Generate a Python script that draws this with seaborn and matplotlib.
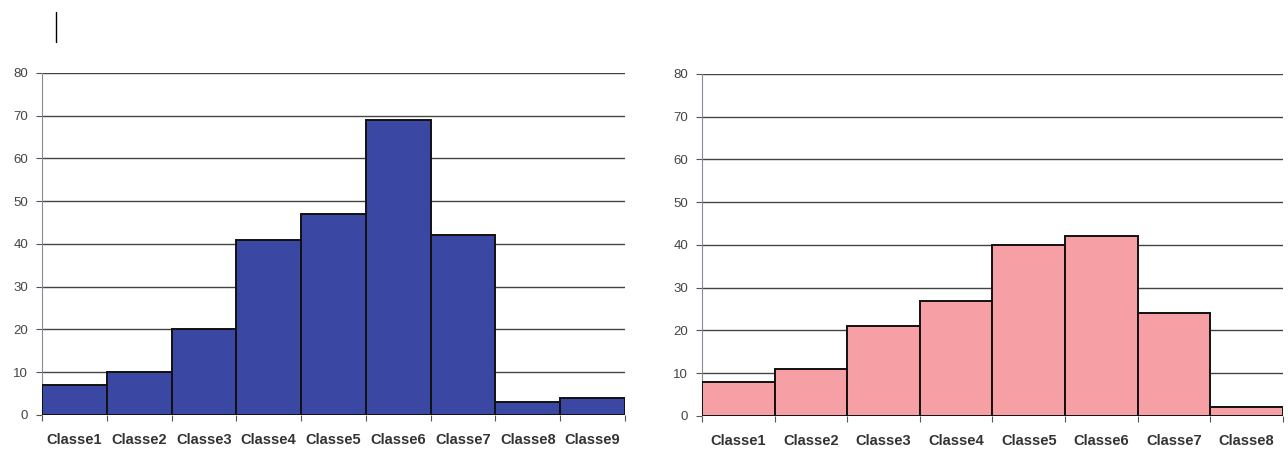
import numpy as np
import pandas as pd
import matplotlib.pyplot as plt
import matplotlib.lines as mlines
import seaborn as sns

# données des deux histogrammes
classes_left = ["Classe1", "Classe2", "Classe3", "Classe4", "Classe5",
                "Classe6", "Classe7", "Classe8", "Classe9"]
values_left = [7, 10, 20, 41, 47, 69, 42, 3, 4]

classes_right = ["Classe1", "Classe2", "Classe3", "Classe4", "Classe5",
                 "Classe6", "Classe7", "Classe8"]
values_right = [8, 11, 21, 27, 40, 42, 24, 2]

y_ticks = [0, 10, 20, 30, 40, 50, 60, 70, 80]

sns.set_theme(style="white")
plt.rcParams['font.family'] = ['Liberation Sans', 'DejaVu Sans']

fig = plt.figure(figsize=(12.88, 4.5), dpi=100)
ax1 = fig.add_axes([0.0326, 0.0778, 0.4526, 0.76])
ax2 = fig.add_axes([0.545, 0.0756, 0.451, 0.76])


def draw_hist(ax, cats, vals, color):
    df = pd.DataFrame({"classe": cats, "n": vals})
    sns.barplot(data=df, x="classe", y="n", color=color, width=1.0,
                edgecolor="#111111", linewidth=1.4, saturation=1, ax=ax, zorder=3)
    ax.set_ylim(0, 80)
    ax.set_xlim(-0.5, len(cats) - 0.5)
    ax.set_yticks(y_ticks)
    ax.yaxis.grid(True, color="#444444", linewidth=1.0)
    ax.set_axisbelow(True)
    ax.set_xlabel("")
    ax.set_ylabel("")
    for s in ["top", "right", "bottom"]:
        ax.spines[s].set_visible(False)
    ax.spines["left"].set_color("#8a8a9a")
    ax.spines["left"].set_linewidth(0.8)
    ax.tick_params(axis="y", left=True, length=4, width=0.8, color="#555555",
                   labelsize=9.5, labelcolor="#444444", pad=6)
    ax.tick_params(axis="x", bottom=False, length=0, labelsize=10.5, pad=13)
    for lab in ax.get_xticklabels():
        lab.set_fontweight("bold")
        lab.set_color("#333333")
    # petits traits entre les classes
    ax.set_xticks(np.arange(-0.5, len(cats) + 0.5, 1), minor=True)
    ax.tick_params(axis="x", which="minor", bottom=True, length=4,
                   width=0.8, color="#555555")


draw_hist(ax1, classes_left, values_left, "#3a48a4")
draw_hist(ax2, classes_right, values_right, "#f6a0a6")

fig.add_artist(mlines.Line2D([56 / 1288, 56 / 1288], [1 - 12 / 450, 1 - 42 / 450],
                             color="black", linewidth=1.0))

fig.savefig("out.png", dpi=100)
